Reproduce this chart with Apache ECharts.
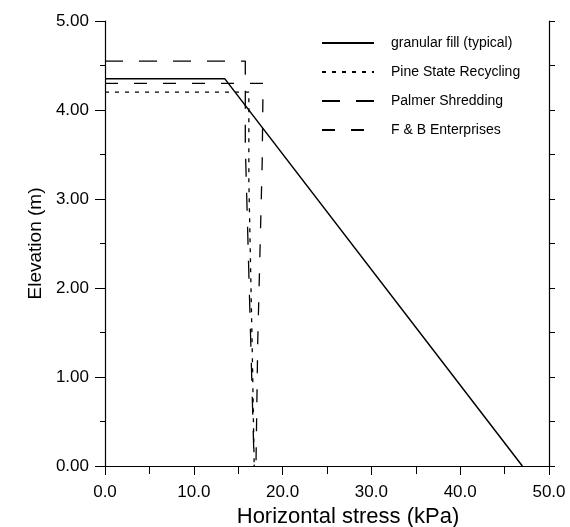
<!DOCTYPE html>
<html><head><meta charset="utf-8">
<script src="https://cdn.jsdelivr.net/npm/echarts@6/dist/echarts.min.js"></script>
<style>html,body{margin:0;padding:0;background:#fff}#c{width:570px;height:527px}</style>
</head><body><div id="c"></div>
<script>
const seriesNames = ['granular fill (typical)', 'Pine State Recycling', 'Palmer Shredding', 'F & B Enterprises'];
const granular = [[0, 4.35], [13.5, 4.35], [47.0, 0]];
const pineState = [[0, 4.20], [16.2, 4.20], [16.2, 3.2], [16.6, 1.2], [16.8, 0]];
const palmer = [[0, 4.55], [15.8, 4.55], [15.8, 3.6], [16.3, 1.8], [16.8, 0]];
const fbEnt = [[0, 4.30], [17.8, 4.30], [17.7, 3.4], [17.2, 1.4], [17.0, 0]];
const xTicks = {min: 0, max: 50, interval: 10};
const yTicks = {min: 0, max: 5, interval: 1};

const font = 'Liberation Sans, Arial, sans-serif';
const chart = echarts.init(document.getElementById('c'));
const mk = (name, data, type, w) => ({
  name, type: 'line', data, symbol: 'none', showSymbol: false, animation: false,
  lineStyle: {color: '#000', width: w, type}, itemStyle: {color: '#000'}
});
chart.setOption({
  backgroundColor: '#fff',
  animation: false,
  grid: {left: 105, right: 21, top: 21, bottom: 61, containLabel: false, outerBoundsMode: 'none'},
  legend: {
    orient: 'vertical', left: 316, top: 31, itemGap: 15, itemWidth: 52, itemHeight: 14,
    itemStyle: {opacity: 0},
    textStyle: {fontFamily: font, fontSize: 14, color: '#000', padding: [0, 0, 0, 12]},
    data: seriesNames
  },
  xAxis: {
    type: 'value', min: xTicks.min, max: xTicks.max, interval: xTicks.interval,
    name: 'Horizontal stress (kPa)', nameLocation: 'middle', nameGap: 33,
    nameTextStyle: {fontFamily: font, fontSize: 22, color: '#000', padding: [0, 0, 0, 42]},
    axisLine: {lineStyle: {color: '#000', width: 1.2}},
    axisTick: {show: true, length: 9, lineStyle: {color: '#000'}},
    minorTick: {show: true, splitNumber: 2, length: 8, lineStyle: {color: '#000'}},
    axisLabel: {fontFamily: font, fontSize: 17, color: '#000', margin: 18, formatter: v => v.toFixed(1)},
    splitLine: {show: false}
  },
  yAxis: [{
    type: 'value', min: yTicks.min, max: yTicks.max, interval: yTicks.interval,
    name: 'Elevation (m)', nameLocation: 'middle', nameGap: 52,
    nameTextStyle: {fontFamily: font, fontSize: 19, color: '#000'},
    axisLine: {show: true, lineStyle: {color: '#000', width: 1.2}},
    axisTick: {show: true, length: 10, lineStyle: {color: '#000'}},
    minorTick: {show: true, splitNumber: 2, length: 5, lineStyle: {color: '#000'}},
    axisLabel: {fontFamily: font, fontSize: 17, color: '#000', margin: 16, formatter: v => v.toFixed(2)},
    splitLine: {show: false}
  }, {
    type: 'value', position: 'right', min: yTicks.min, max: yTicks.max, interval: 0.5,
    axisLine: {show: true, onZero: false, lineStyle: {color: '#000', width: 1.2}},
    axisTick: {show: true, length: 6, lineStyle: {color: '#000'}},
    axisLabel: {show: false},
    splitLine: {show: false}
  }],
  series: [
    mk(seriesNames[0], granular, 'solid', 1.5),
    mk(seriesNames[1], pineState, [4, 6], 1.3),
    mk(seriesNames[2], palmer, [18, 16], 1.3),
    mk(seriesNames[3], fbEnt, [13, 16], 1.3)
  ]
});
</script></body></html>
